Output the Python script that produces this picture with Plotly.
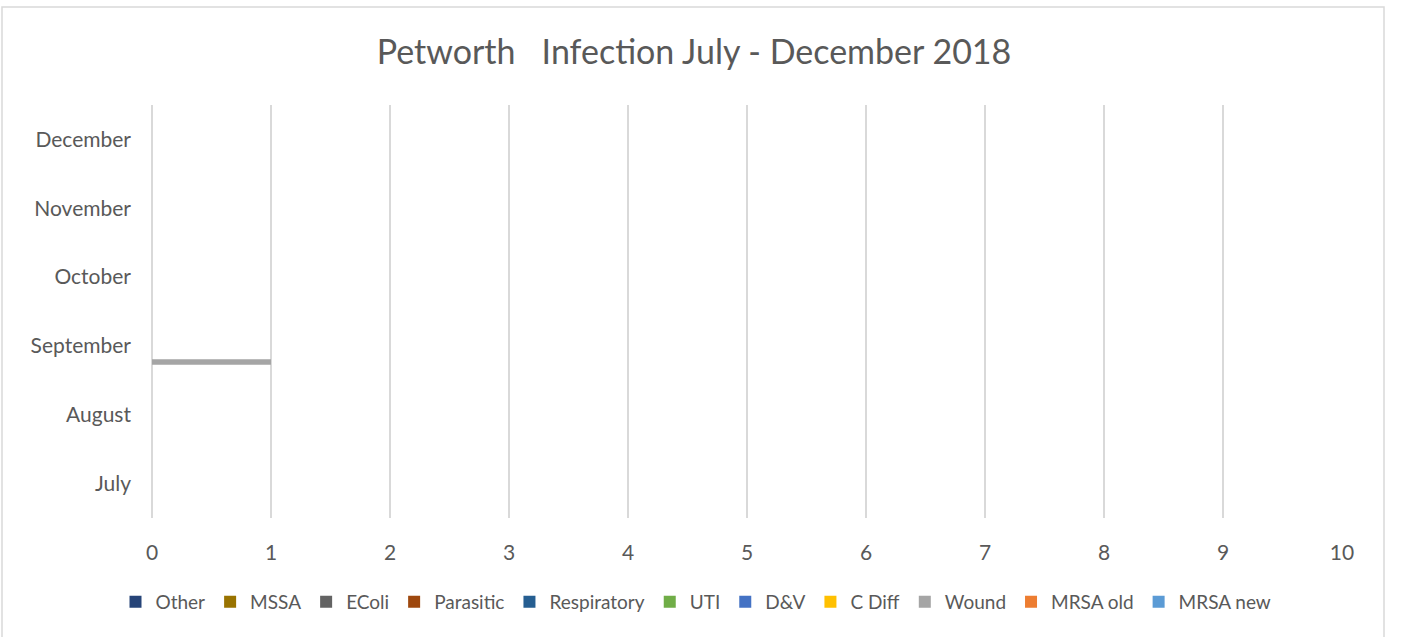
import plotly.graph_objects as go

months = ["July", "August", "September", "October", "November", "December"]

series = ["Other", "MSSA", "EColi", "Parasitic", "Respiratory", "UTI",
          "D&V", "C Diff", "Wound", "MRSA old", "MRSA new"]
colors = ["#264478", "#997300", "#636363", "#9E480E", "#255E91", "#70AD47",
          "#4472C4", "#FFC000", "#A5A5A5", "#ED7D31", "#5B9BD5"]

other = [0, 0, 0, 0, 0, 0]
mssa = [0, 0, 0, 0, 0, 0]
ecoli = [0, 0, 0, 0, 0, 0]
parasitic = [0, 0, 0, 0, 0, 0]
respiratory = [0, 0, 0, 0, 0, 0]
uti = [0, 0, 0, 0, 0, 0]
dv = [0, 0, 0, 0, 0, 0]
cdiff = [0, 0, 0, 0, 0, 0]
wound = [0, 0, 1, 0, 0, 0]
mrsa_old = [0, 0, 0, 0, 0, 0]
mrsa_new = [0, 0, 0, 0, 0, 0]

values = [other, mssa, ecoli, parasitic, respiratory, uti,
          dv, cdiff, wound, mrsa_old, mrsa_new]

FONT = "Lato"
GREY = "#595959"

fig = go.Figure()
# Excel draws the first series at the top of each group, plotly at the bottom,
# so add traces backwards and reverse the legend
for name, vals, col in reversed(list(zip(series, values, colors))):
    fig.add_trace(go.Bar(
        x=vals, y=months, name=name, orientation="h",
        marker=dict(color=col, line=dict(width=0)),
    ))

fig.update_layout(
    width=1403, height=637,
    margin=dict(l=152, r=61, t=105, b=119),
    paper_bgcolor="white", plot_bgcolor="white",
    barmode="group", bargap=0.142, bargroupgap=0,
    font=dict(family=FONT, color=GREY, size=21),
    title=dict(text="Petworth   Infection July - December 2018",
               x=694 / 1403, xanchor="center",
               y=1 - 52 / 637, yanchor="middle",
               font=dict(size=34, color=GREY, family=FONT)),
    legend=dict(orientation="h", traceorder="reversed",
                x=(696 - 152) / 1190, xanchor="center", y=-0.203, yanchor="middle",
                font=dict(size=19, color=GREY), itemwidth=30),
    showlegend=True,
)
fig.update_xaxes(range=[0, 10], dtick=1, showgrid=True, gridcolor="#D9D9D9",
                 gridwidth=1.5, zeroline=True, zerolinecolor="#D9D9D9",
                 zerolinewidth=1.5, showline=False,
                 ticklabelstandoff=20, tickfont=dict(size=21, color=GREY))
fig.update_yaxes(showgrid=False, showline=False, zeroline=False,
                 ticklabelstandoff=20, tickfont=dict(size=21, color=GREY))

# outer chart border
fig.add_shape(type="rect", xref="paper", yref="paper",
              x0=(2 - 152) / 1190, x1=(1384 - 152) / 1190,
              y0=(518 - 660) / 413, y1=(518 - 7) / 413,
              line=dict(color="#D9D9D9", width=1.5), layer="below")

# drop the default 8px body margin so the figure fills the window
fig.write_html("out.html", config={"displayModeBar": False},
               post_script="document.body.style.margin='0';")
